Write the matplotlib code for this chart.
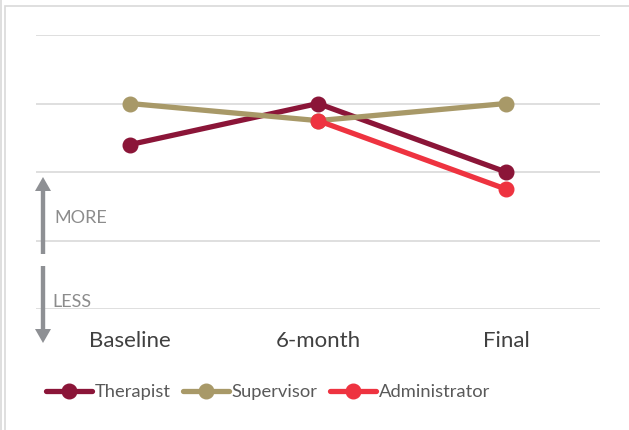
import matplotlib
matplotlib.use("Agg")
import numpy as np
import matplotlib.pyplot as plt
from matplotlib.patches import Rectangle, FancyArrow
from matplotlib.lines import Line2D

plt.rcParams["font.family"] = ["Lato", "DejaVu Sans"]

timepoints = ["Baseline", "6-month", "Final"]
therapist = [2.4, 3.0, 2.0]
supervisor = [3.0, 2.75, 3.0]
administrator = [np.nan, 2.75, 1.75]

series = [
    ("Therapist", therapist, "#8b1538"),
    ("Supervisor", supervisor, "#a89968"),
    ("Administrator", administrator, "#ee3340"),
]

W, H = 629, 430
fig = plt.figure(figsize=(W / 100, H / 100), dpi=100)
fig.patch.set_facecolor("white")

# light chart-area border
fig.add_artist(Rectangle((5 / W, -0.1), 1.2, (H - 6) / H + 0.1,
                         transform=fig.transFigure, fill=False,
                         edgecolor="#d9d9d9", linewidth=1.2))
fig.add_artist(Line2D([1 / W, 1 / W], [0, 1], transform=fig.transFigure,
                      color="#d9d9d9", linewidth=1.2))

ax = fig.add_axes([36 / W, (H - 309) / H, 564 / W, 274 / H])
x = np.arange(len(timepoints))
for name, vals, col in series:
    ax.plot(x, vals, color=col, linewidth=3.8, marker="o", markersize=10.5,
            label=name, solid_capstyle="round", zorder=3)

ax.set_xlim(-0.5, 2.5)
ax.set_ylim(0, 4)
ax.set_yticks([0, 1, 2, 3, 4])
ax.yaxis.grid(True, color="#d9d9d9", linewidth=1.2)
ax.set_axisbelow(True)
ax.tick_params(axis="y", left=False, labelleft=False)
ax.tick_params(axis="x", bottom=False, labelsize=16, labelcolor="#404040", pad=12)
ax.set_xticks(x)
ax.set_xticklabels(timepoints)
for s in ax.spines.values():
    s.set_visible(False)

# MORE / LESS direction arrows
arrow_col = "#8e9094"
def fig_arrow(y0, y1):
    fig.add_artist(FancyArrow(43 / W, (H - y0) / H, 0, (y0 - y1) / H,
                              width=3 / H, head_width=16 / W,
                              head_length=14 / H, length_includes_head=True,
                              transform=fig.transFigure, color=arrow_col,
                              linewidth=0))
fig_arrow(254, 177)
fig_arrow(266, 343)
fig.text(54 / W, (H - 218) / H, "MORE", color="#8c8c8c", fontsize=13, va="center")
fig.text(52 / W, (H - 302) / H, "LESS", color="#8c8c8c", fontsize=13, va="center")

leg = fig.legend(loc="center", bbox_to_anchor=(268 / W, (H - 392) / H), ncol=3,
                 frameon=False, fontsize=13.2, handlelength=2.5,
                 handletextpad=0.15, columnspacing=0.7)
for t in leg.get_texts():
    t.set_color("#595959")

fig.savefig("out.png", dpi=100)
